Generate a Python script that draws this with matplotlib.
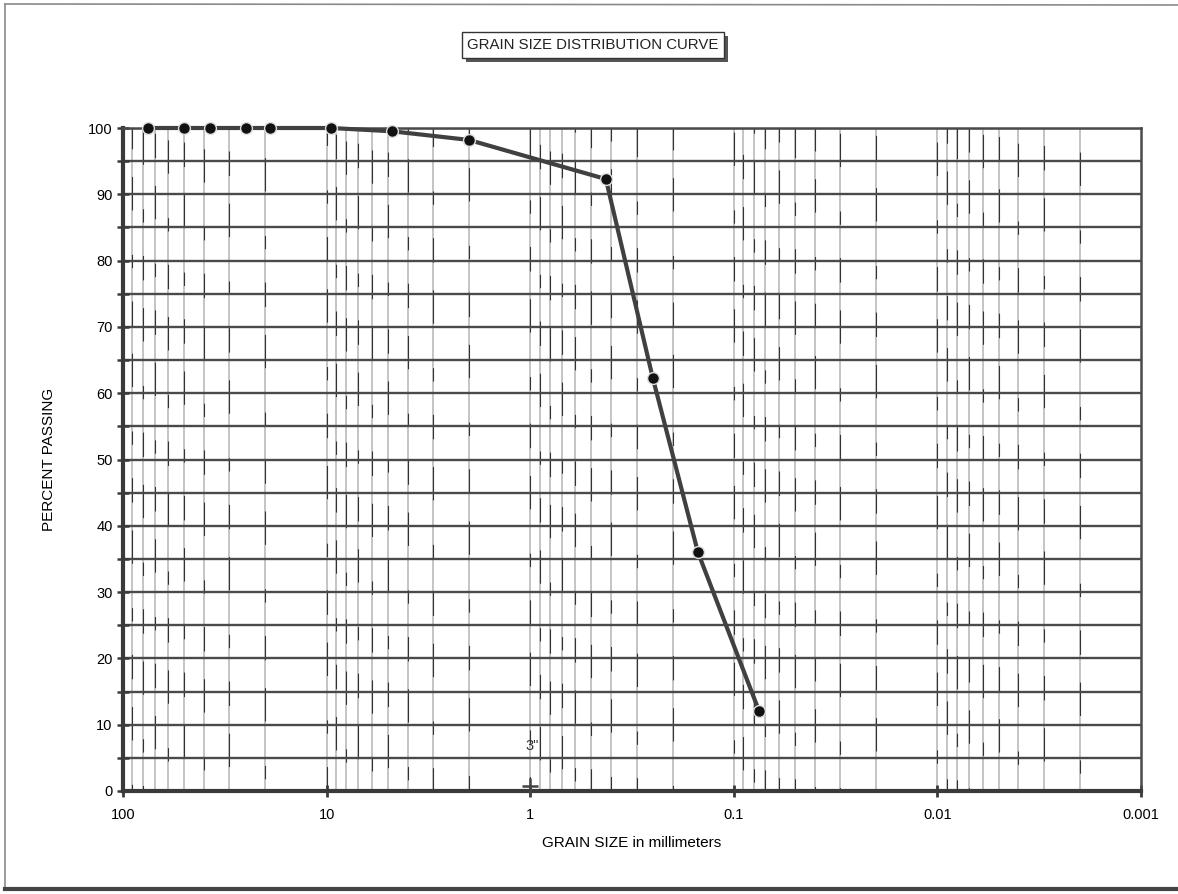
import matplotlib
matplotlib.use("Agg")
import matplotlib.pyplot as plt
import numpy as np
from matplotlib.patches import Rectangle
from matplotlib.lines import Line2D

plt.rcParams['font.family'] = ['Liberation Sans', 'DejaVu Sans']

# Data: sieve sizes (mm) and percent passing
grain_size_mm = [75, 50, 37.5, 25, 19, 9.5, 4.75, 2.0, 0.425, 0.25, 0.15, 0.075]
percent_passing = [100, 100, 100, 100, 100, 100, 99.5, 98.2, 92.3, 62.3, 36.0, 12.0]

x_tick_values = [100, 10, 1, 0.1, 0.01, 0.001]
x_tick_labels = ["100", "10", "1", "0.1", "0.01", "0.001"]
y_tick_values = list(range(0, 101, 10))

title_text = "GRAIN SIZE DISTRIBUTION CURVE"
x_label = "GRAIN SIZE in millimeters"
y_label = "PERCENT PASSING"
annot_x, annot_y, annot_text = 1.0, 0.8, '3"'

W, H = 1178, 894
fig = plt.figure(figsize=(W / 100, H / 100), dpi=100)
ax = fig.add_axes([123 / W, 1 - 791 / H, (1141 - 123) / W, (791 - 128) / H])

ax.set_xscale('log')
ax.set_xlim(100, 0.001)
ax.set_ylim(0, 100)

# vertical log grid (scan-like: grey lines with broken dark overlay)
k = 0
for dec in [10, 1, 0.1, 0.01, 0.001]:
    for m in range(1, 10):
        v = dec * m
        if v >= 100 or v <= 0.001:
            continue
        ax.axvline(v, color='#c4c4c4', lw=1.4, zorder=1)
        off = (k * 41) % 90
        ax.axvline(v, color='#333333', lw=0.8, zorder=1.1,
                   linestyle=(off, (22, 30, 12, 40, 30, 25)))
        k += 1

# horizontal grid every 5
for yv in range(5, 101, 5):
    ax.axhline(yv, color='#4a4a4a', lw=1.7, zorder=1.5)

# curve
ax.plot(grain_size_mm, percent_passing, color='#404040', lw=3.0, zorder=3,
        marker='o', markersize=8.5, markerfacecolor='#111111',
        markeredgecolor='#dddddd', markeredgewidth=1.0, clip_on=False)

# annotation
ax.plot([annot_x], [annot_y], marker='+', markersize=12, color='#444444',
        mew=1.8, zorder=4, clip_on=False)
ax.text(annot_x * 0.98, 5.8, annot_text, fontsize=10.5, color='#333333',
        ha='center', va='bottom', zorder=4)

# spines
for s in ['left', 'bottom']:
    ax.spines[s].set_linewidth(3.0)
    ax.spines[s].set_color('#3a3a3a')
for s in ['right', 'top']:
    ax.spines[s].set_linewidth(1.8)
    ax.spines[s].set_color('#4a4a4a')

ax.set_yticks(y_tick_values)
ax.set_yticks(list(range(5, 100, 10)), minor=True)
ax.set_xticks(x_tick_values)
ax.set_xticklabels(x_tick_labels)
ax.xaxis.set_minor_locator(matplotlib.ticker.NullLocator())
ax.tick_params(axis='y', which='both', direction='inout', length=9, width=1.8,
               color='#3a3a3a', labelsize=10.5, pad=3)
ax.tick_params(axis='x', which='major', direction='inout', length=9, width=2.0,
               color='#3a3a3a', labelsize=10.5, pad=8)

ax.set_xlabel(x_label, fontsize=11, labelpad=10)
ax.set_ylabel(y_label, fontsize=11, labelpad=23)

# title box with shadow
bx0, by0, bw, bh = 462, 32, 262, 26
fig.patches.append(Rectangle(((bx0 + 4) / W, 1 - (by0 + bh + 4) / H), bw / W, bh / H,
                             transform=fig.transFigure, facecolor='#555555',
                             edgecolor='none', zorder=5))
fig.patches.append(Rectangle((bx0 / W, 1 - (by0 + bh) / H), bw / W, bh / H,
                             transform=fig.transFigure, facecolor='white',
                             edgecolor='#333333', lw=1.0, zorder=6))
fig.text((bx0 + bw / 2) / W, 1 - (by0 + bh / 2) / H, title_text, fontsize=10.8,
         ha='center', va='center', zorder=7, color='#222222')

# figure frame (scan border)
fig.add_artist(Line2D([5 / W, 5 / W], [1 - 4 / H, 1 - 889 / H], color='#8a8a8a', lw=1.2,
                      transform=fig.transFigure))
fig.add_artist(Line2D([5 / W, 1.0], [1 - 4 / H, 1 - 5 / H], color='#8a8a8a', lw=1.2,
                      transform=fig.transFigure))
fig.add_artist(Line2D([5 / W, 1.0], [1 - 889 / H, 1 - 889 / H], color='#444444', lw=3.0,
                      transform=fig.transFigure))

fig.savefig('out.png', dpi=100)
